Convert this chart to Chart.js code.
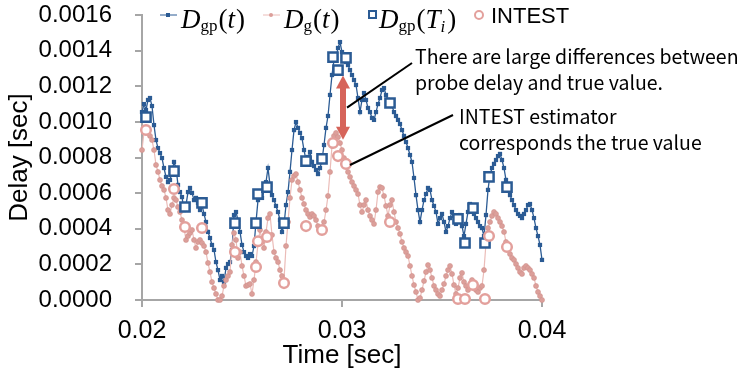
<!DOCTYPE html>
<html>
<head>
<meta charset="utf-8">
<script src="https://cdn.jsdelivr.net/npm/chart.js@4.4.0/dist/chart.umd.min.js"></script>
<style>
html, body { margin: 0; padding: 0; background: #fff; }
#contenitore { width: 755px; height: 371px; }
</style>
</head>
<body>
<div id="contenitore"><canvas id="grafico"></canvas></div>
<script>
// campioni: uno ogni 0.1 ms a partire da 0.02 s
var tempoInizio = 0.02;
var passo = 0.0001;

// D_gp(t) [sec]
var ritardoGp = [
  0.001055,0.001100,0.001067,0.001123,0.001134,0.001089,0.000982,0.000898,0.000853,0.000825,
  0.000797,0.000741,0.000691,0.000662,0.000674,0.000719,0.000775,0.000741,0.000646,0.000606,
  0.000578,0.000505,0.000533,0.000606,0.000629,0.000601,0.000561,0.000573,0.000545,0.000505,
  0.000533,0.000483,0.000438,0.000382,0.000348,0.000309,0.000281,0.000213,0.000168,0.000112,
  0.000135,0.000101,0.000180,0.000202,0.000213,0.000281,0.000477,0.000494,0.000449,0.000382,
  0.000309,0.000269,0.000247,0.000236,0.000258,0.000247,0.000303,0.000438,0.000561,0.000606,
  0.000573,0.000618,0.000662,0.000741,0.000646,0.000589,0.000561,0.000528,0.000494,0.000449,
  0.000382,0.000421,0.000533,0.000606,0.000719,0.000842,0.000954,0.000999,0.000966,0.000938,
  0.000909,0.000842,0.000786,0.000803,0.000831,0.000775,0.000752,0.000730,0.000707,0.000741,
  0.000786,0.000870,0.000966,0.001033,0.001151,0.001263,0.001347,0.001359,0.001415,0.001448,
  0.001392,0.001347,0.001336,0.001319,0.001291,0.001263,0.001235,0.001207,0.001134,0.001055,
  0.001123,0.001162,0.001123,0.001078,0.001055,0.001022,0.001011,0.001055,0.001100,0.001134,
  0.001179,0.001190,0.001151,0.001123,0.001112,0.001089,0.001055,0.001033,0.001011,0.000988,
  0.000954,0.000921,0.000887,0.000853,0.000814,0.000775,0.000685,0.000589,0.000505,0.000438,
  0.000505,0.000561,0.000595,0.000629,0.000618,0.000561,0.000528,0.000494,0.000427,0.000460,
  0.000483,0.000438,0.000382,0.000415,0.000460,0.000494,0.000472,0.000427,0.000460,0.000477,
  0.000415,0.000359,0.000427,0.000494,0.000539,0.000516,0.000483,0.000460,0.000438,0.000415,
  0.000404,0.000359,0.000477,0.000618,0.000702,0.000741,0.000764,0.000786,0.000808,0.000820,
  0.000786,0.000741,0.000674,0.000629,0.000589,0.000561,0.000533,0.000505,0.000483,0.000472,
  0.000460,0.000483,0.000505,0.000533,0.000539,0.000505,0.000460,0.000404,0.000359,0.000309,
  0.000225
];

// D_g(t) [sec]
var ritardoG = [
  0.000842,0.000943,0.000954,0.000938,0.000921,0.000898,0.000842,0.000758,0.000719,0.000674,
  0.000640,0.000618,0.000573,0.000505,0.000483,0.000533,0.000573,0.000561,0.000522,0.000494,
  0.000449,0.000404,0.000337,0.000359,0.000376,0.000393,0.000337,0.000292,0.000326,0.000337,
  0.000320,0.000303,0.000269,0.000208,0.000157,0.000101,0.000067,0.000034,0.000000,0.000000,
  0.000022,0.000079,0.000112,0.000135,0.000157,0.000309,0.000376,0.000337,0.000236,0.000269,
  0.000191,0.000135,0.000079,0.000084,0.000090,0.000034,0.000112,0.000213,0.000314,0.000393,
  0.000326,0.000292,0.000382,0.000460,0.000483,0.000365,0.000269,0.000236,0.000213,0.000168,
  0.000135,0.000112,0.000303,0.000438,0.000573,0.000674,0.000696,0.000707,0.000662,0.000618,
  0.000573,0.000539,0.000505,0.000483,0.000466,0.000483,0.000472,0.000449,0.000415,0.000393,
  0.000404,0.000438,0.000505,0.000584,0.000719,0.000865,0.000921,0.000938,0.000915,0.000881,
  0.000842,0.000797,0.000758,0.000719,0.000691,0.000662,0.000640,0.000618,0.000595,0.000533,
  0.000494,0.000533,0.000561,0.000505,0.000472,0.000449,0.000427,0.000505,0.000606,0.000634,
  0.000629,0.000584,0.000528,0.000472,0.000533,0.000561,0.000494,0.000438,0.000404,0.000371,
  0.000326,0.000292,0.000269,0.000247,0.000191,0.000135,0.000084,0.000045,0.000000,0.000011,
  0.000056,0.000107,0.000157,0.000196,0.000168,0.000124,0.000079,0.000056,0.000034,0.000022,
  0.000056,0.000090,0.000135,0.000168,0.000191,0.000146,0.000084,0.000034,0.000067,0.000124,
  0.000152,0.000101,0.000079,0.000056,0.000079,0.000112,0.000090,0.000056,0.000045,0.000067,
  0.000079,0.000168,0.000320,0.000404,0.000438,0.000472,0.000494,0.000483,0.000460,0.000438,
  0.000415,0.000382,0.000326,0.000292,0.000258,0.000236,0.000225,0.000202,0.000180,0.000157,
  0.000146,0.000180,0.000191,0.000180,0.000168,0.000146,0.000124,0.000079,0.000045,0.000022,
  0.000000
];

// istanti delle sonde T_i e valori
var tempiSonda = [0.0202,0.0216,0.02215,0.0230,0.02465,0.0257,0.0258,0.02625,0.0271,0.0282,0.0290,
  0.02955,0.0298,0.0302,0.0324,0.0358,0.03615,0.03655,0.03715,0.03735,0.03825];
var sondaGp = [0.001027,0.000724,0.000522,0.000545,0.000432,0.000432,0.000595,0.000634,0.000432,0.000780,0.000792,
  0.001364,0.001291,0.001359,0.001106,0.000455,0.000320,0.000516,0.000320,0.000691,0.000634];
var sondaIntest = [0.000954,0.000623,0.000410,0.000404,0.000269,0.000185,0.000330,0.000354,0.000095,0.000415,0.000393,
  0.000881,0.000808,0.000764,0.000438,0.000006,0.000006,0.000084,0.000006,0.000359,0.000298];

var tickX = [0.02, 0.03, 0.04];
var tickY = [0, 0.0002, 0.0004, 0.0006, 0.0008, 0.0010, 0.0012, 0.0014, 0.0016];

var blu = '#2b5b94';
var rosa = '#dc9f9a';
var rosaLinea = '#ebbcb8';
var grigio = '#a6a6a6';

var puntiGp = [];
var puntiG = [];
for (var i = 0; i < ritardoGp.length; i++) {
  var t = tempoInizio + i * passo;
  puntiGp.push({x: t, y: ritardoGp[i]});
  puntiG.push({x: t, y: ritardoG[i]});
}
var puntiSondaGp = [];
var puntiSondaG = [];
for (var j = 0; j < tempiSonda.length; j++) {
  puntiSondaGp.push({x: tempiSonda[j], y: sondaGp[j]});
  puntiSondaG.push({x: tempiSonda[j], y: sondaIntest[j]});
}

// scrive D_sub(arg) come formula
function scriviFormula(ctx, x, base, pezzi) {
  ctx.fillStyle = '#000';
  ctx.textAlign = 'left';
  ctx.textBaseline = 'alphabetic';
  for (var k = 0; k < pezzi.length; k++) {
    ctx.font = pezzi[k][1] + ' "Liberation Serif"';
    ctx.fillText(pezzi[k][0], x, base + (pezzi[k][2] || 0));
    x += ctx.measureText(pezzi[k][0]).width + (pezzi[k][3] || 0);
  }
}

var decorazioni = {
  id: 'decorazioni',
  afterDraw: function(chart) {
    var ctx = chart.ctx;
    var sx = chart.scales.x;
    var sy = chart.scales.y;
    ctx.save();

    // legenda
    ctx.lineWidth = 1;
    ctx.strokeStyle = blu;
    ctx.beginPath(); ctx.moveTo(160, 15); ctx.lineTo(177, 15); ctx.stroke();
    ctx.fillStyle = blu;
    ctx.fillRect(166, 13, 4, 4);
    scriviFormula(ctx, 181, 28, [['D', 'italic 27px', 0, 0], ['gp', '17px', 3, 1], ['(', '27px'], ['t', 'italic 27px', 0, 1], [')', '27px']]);

    ctx.strokeStyle = rosaLinea;
    ctx.beginPath(); ctx.moveTo(263, 15); ctx.lineTo(280, 15); ctx.stroke();
    ctx.fillStyle = rosa;
    ctx.beginPath(); ctx.arc(271, 15, 2, 0, Math.PI * 2); ctx.fill();
    scriviFormula(ctx, 284, 28, [['D', 'italic 27px', 0, 0], ['g', '17px', 3, 1], ['(', '27px'], ['t', 'italic 27px', 0, 1], [')', '27px']]);

    ctx.strokeStyle = blu;
    ctx.lineWidth = 2;
    ctx.fillStyle = '#fff';
    ctx.fillRect(369, 11, 7, 7);
    ctx.strokeRect(369, 11, 7, 7);
    scriviFormula(ctx, 379, 28, [['D', 'italic 27px', 0, 0], ['gp', '17px', 3, 1], ['(', '27px'], ['T', 'italic 27px', 0, 0], ['i', 'italic 17px', 4, 2], [')', '27px']]);

    ctx.strokeStyle = '#e3a09c';
    ctx.beginPath(); ctx.arc(479, 15, 4, 0, Math.PI * 2); ctx.stroke();
    ctx.fillStyle = '#000';
    ctx.font = '22px "Liberation Sans"';
    ctx.fillText('INTEST', 491, 23);

    // freccia rossa doppia
    var fx = sx.getPixelForValue(0.03005);
    var fAlto = sy.getPixelForValue(0.00126);
    var fBasso = sy.getPixelForValue(0.00090);
    ctx.fillStyle = '#d6645a';
    ctx.fillRect(fx - 3, fAlto + 12, 6, fBasso - fAlto - 24);
    ctx.beginPath();
    ctx.moveTo(fx, fAlto); ctx.lineTo(fx + 7, fAlto + 13); ctx.lineTo(fx - 7, fAlto + 13); ctx.closePath();
    ctx.fill();
    ctx.beginPath();
    ctx.moveTo(fx, fBasso); ctx.lineTo(fx + 7, fBasso - 13); ctx.lineTo(fx - 7, fBasso - 13); ctx.closePath();
    ctx.fill();

    // linee di richiamo
    ctx.strokeStyle = '#000';
    ctx.lineWidth = 2;
    ctx.beginPath();
    ctx.moveTo(sx.getPixelForValue(0.03025), sy.getPixelForValue(0.00108));
    ctx.lineTo(412, 63);
    ctx.stroke();
    ctx.beginPath();
    ctx.moveTo(sx.getPixelForValue(0.0304), sy.getPixelForValue(0.000758));
    ctx.lineTo(453, 115);
    ctx.stroke();

    // testi
    ctx.fillStyle = '#000';
    ctx.font = '19.5px "Noto Sans CJK JP"';
    ctx.textBaseline = 'middle';
    ctx.fillText('There are large differences between', 415, 57);
    ctx.fillText('probe delay and true value.', 415, 83);
    ctx.fillText('INTEST estimator', 459, 117);
    ctx.fillText('corresponds the true value', 459, 143);
    ctx.restore();
  }
};

var grafico = new Chart(document.getElementById('grafico'), {
  type: 'line',
  data: {
    datasets: [
      {
        label: 'D_gp(t)', data: puntiGp, borderColor: blu, borderWidth: 1.3,
        pointStyle: 'rect', pointRadius: 3, pointBackgroundColor: blu, pointBorderWidth: 0,
        clip: false, order: 4
      },
      {
        label: 'D_g(t)', data: puntiG, borderColor: rosaLinea, borderWidth: 1.2,
        pointStyle: 'circle', pointRadius: 2.5, pointBackgroundColor: rosa, pointBorderColor: '#d0928d', pointBorderWidth: 0.6,
        clip: false, order: 3
      },
      {
        label: 'D_gp(T_i)', data: puntiSondaGp, showLine: false,
        pointStyle: 'rect', pointRadius: 6.5, pointBackgroundColor: '#fff', pointBorderColor: blu, pointBorderWidth: 2.5,
        clip: false, order: 2
      },
      {
        label: 'INTEST', data: puntiSondaG, showLine: false,
        pointStyle: 'circle', pointRadius: 4.8, pointBackgroundColor: '#fff', pointBorderColor: '#e3a09c', pointBorderWidth: 2.5,
        clip: false, order: 1
      }
    ]
  },
  options: {
    responsive: true,
    maintainAspectRatio: false,
    animation: false,
    events: [],
    layout: { padding: { left: 0, right: 213, top: 15, bottom: 0 } },
    plugins: { legend: { display: false }, tooltip: { enabled: false } },
    scales: {
      x: {
        type: 'linear', min: 0.02, max: 0.04,
        border: { color: grigio, width: 2 },
        grid: { drawOnChartArea: false, drawTicks: true, tickLength: 7, color: grigio, lineWidth: 2 },
        ticks: {
          font: { family: 'Liberation Sans', size: 25 }, color: '#000', padding: 9, maxRotation: 0,
          callback: function(v) { return v.toFixed(2); }
        },
        title: { display: true, text: 'Time [sec]', color: '#000', font: { family: 'Liberation Sans', size: 26 }, padding: { top: 0, bottom: 0 } },
        afterBuildTicks: function(scala) { scala.ticks = tickX.map(function(v) { return {value: v}; }); },
        afterFit: function(scala) { scala.height = 71; scala.paddingLeft = 0; scala.paddingRight = 0; }
      },
      y: {
        type: 'linear', min: 0, max: 0.0016,
        border: { color: grigio, width: 2 },
        grid: { drawOnChartArea: false, drawTicks: true, tickLength: 7, color: grigio, lineWidth: 2 },
        ticks: {
          font: { family: 'Liberation Sans', size: 24 }, color: '#000', padding: 23,
          callback: function(v) { return v.toFixed(4); }
        },
        title: { display: true, text: 'Delay [sec]', color: '#000', font: { family: 'Liberation Sans', size: 26 }, padding: { top: 4, bottom: 0 } },
        afterBuildTicks: function(scala) { scala.ticks = tickY.map(function(v) { return {value: v}; }); },
        afterFit: function(scala) { scala.width = 142; scala.paddingTop = 0; scala.paddingBottom = 0; }
      }
    }
  },
  plugins: [decorazioni]
});
</script>
</body>
</html>
